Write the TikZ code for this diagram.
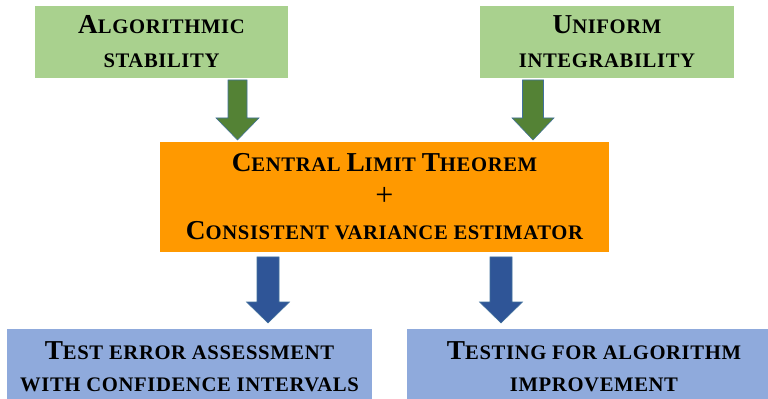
\documentclass[tikz,border=0pt]{standalone}
\usepackage{fontspec}
\setmainfont{Liberation Serif}
\newfontfamily\capsfont[LetterSpace=3]{Liberation Serif}
\definecolor{boxgreen}{HTML}{A9D18E}
\definecolor{arrowgreen}{HTML}{548235}
\definecolor{boxorange}{HTML}{FF9900}
\definecolor{boxblue}{HTML}{8FAADC}
\definecolor{arrowblue}{HTML}{2F5597}
\definecolor{arrowedge}{HTML}{41719C}
% fake small caps: a large initial followed by smaller capitals
\newcommand{\initial}[1]{{\fontsize{20.5}{25.5}\selectfont #1}}
\newcommand{\sm}[1]{{\fontsize{15.5}{25.5}\selectfont #1}}
\def\px{0.75pt}
% block arrow pointing down: centre x, top y, head start y, tip y, half shaft, half head, colour
\newcommand{\blockarrow}[7]{%
  \fill[#7, draw=arrowedge, line width=0.4pt]
    (#1-#5,#2) -- (#1+#5,#2) -- (#1+#5,#3) -- (#1+#6,#3) -- (#1,#4)
    -- (#1-#6,#3) -- (#1-#5,#3) -- cycle;}
\begin{document}
\begin{tikzpicture}[x=0.75pt, y=-0.75pt,
  box/.style={rectangle, inner sep=0pt, align=center,
    font=\capsfont\bfseries\fontsize{15.5}{25.5}\selectfont},
  lowbox/.style={box, font=\capsfont\bfseries\fontsize{15.5}{24}\selectfont}]
\useasboundingbox (0,0) rectangle (768,399);
\fill[white] (0,0) rectangle (768,399);

\node[box, fill=boxgreen, minimum width=253*\px, minimum height=72*\px]
  (stab) at (161.5,42) {\initial{A}\sm{LGORITHMIC}\\\sm{STABILITY}};
\node[box, fill=boxgreen, minimum width=254*\px, minimum height=72*\px]
  (unif) at (607,42) {\initial{U}\sm{NIFORM}\\\sm{INTEGRABILITY}};

\node[box, fill=boxorange, minimum width=449*\px, minimum height=110*\px]
  (clt) at (384.5,197)
  {\initial{C}\sm{ENTRAL} \initial{L}\sm{IMIT} \initial{T}\sm{HEOREM}\\
   {\normalfont\fontsize{24}{25.5}\selectfont +}\\
   \initial{C}\sm{ONSISTENT VARIANCE ESTIMATOR}};

\node[lowbox, fill=boxblue, minimum width=365*\px, minimum height=76*\px]
  (test) at (189.5,367)
  {\initial{T}\sm{EST ERROR ASSESSMENT}\\\sm{WITH CONFIDENCE INTERVALS}};
\node[lowbox, fill=boxblue, minimum width=374*\px, minimum height=76*\px]
  (impr) at (594,367)
  {\initial{T}\sm{ESTING FOR ALGORITHM}\\\sm{IMPROVEMENT}};

% arrows between the boxes
\blockarrow{237.5}{80}{118}{140}{9.5}{21.5}{arrowgreen}
\blockarrow{533}{80}{118}{140}{10.5}{21}{arrowgreen}
\blockarrow{268}{257}{302}{323}{11}{21.5}{arrowblue}
\blockarrow{501}{257}{302}{323}{11}{21.5}{arrowblue}
\end{tikzpicture}
\end{document}
